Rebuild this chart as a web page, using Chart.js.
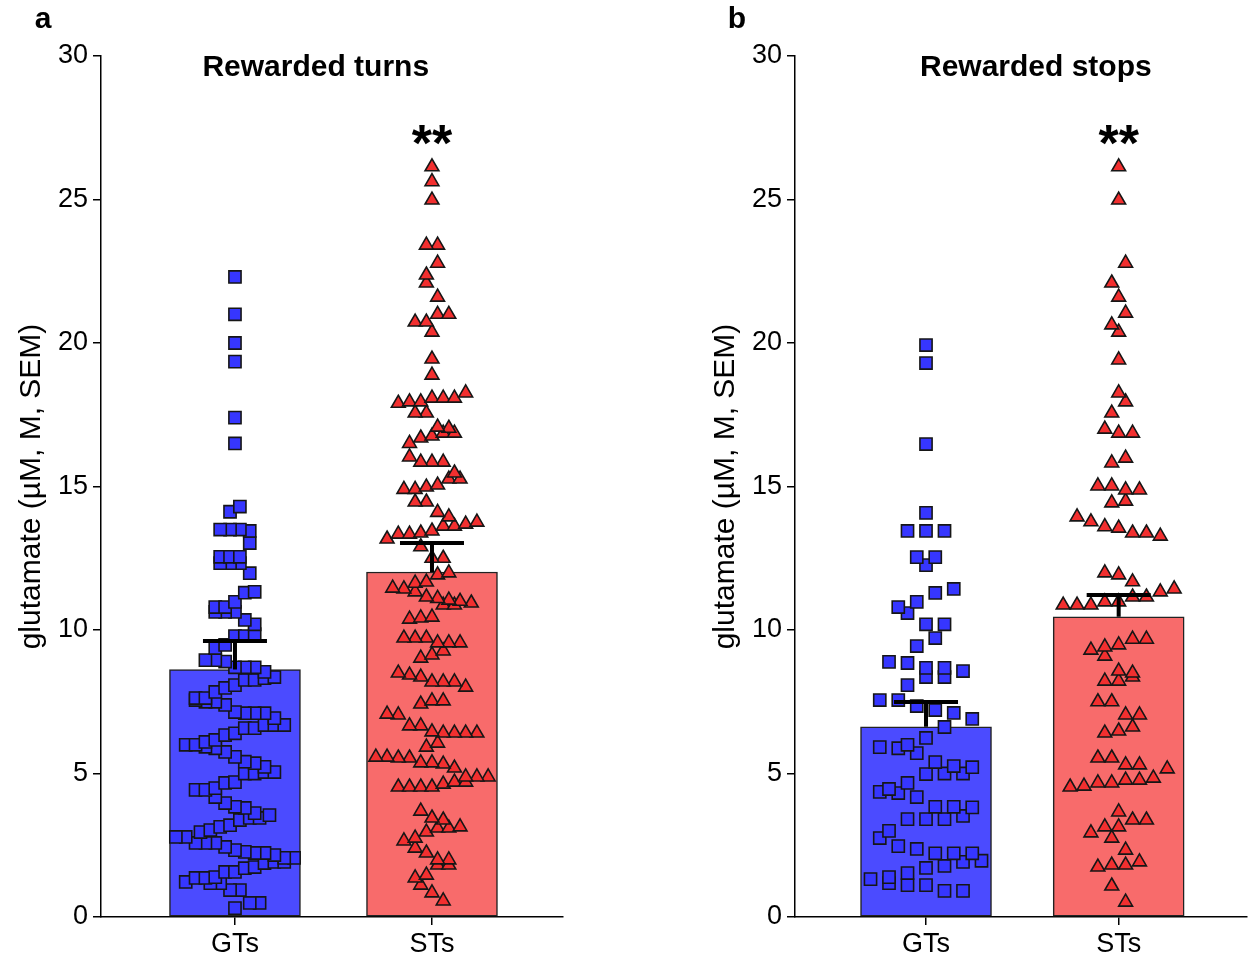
<!DOCTYPE html>
<html>
<head>
<meta charset="utf-8">
<script src="https://cdn.jsdelivr.net/npm/chart.js@4.4.1/dist/chart.umd.min.js"></script>
<style>
body { margin: 0; background: #fff; width: 1257px; height: 963px; overflow: hidden; position: relative; }
canvas { position: absolute; top: 0; }
#panelA { left: 0; }
#panelB { left: 694px; }
</style>
</head>
<body>
<canvas id="panelA" width="694" height="963"></canvas>
<canvas id="panelB" width="563" height="963"></canvas>
<script>
const groups = ["GTs", "STs"];
const yTicks = [0, 5, 10, 15, 20, 25, 30];

// Rewarded turns
const turnsMean = [8.62, 12.02];
const turnsSem = [1.0, 1.01];
const turnsGT = [22.3, 21.0, 20.0, 19.35, 17.4, 16.5,
    14.3, 14.12, 13.5, 13.5, 13.5, 13.45, 13.03,
    12.55, 12.55, 12.55, 12.33, 12.33, 12.33, 11.98, 11.33, 11.3,
    10.98, 10.8, 10.8, 10.63, 10.63, 10.63, 10.35, 10.2,
    9.86, 9.79, 9.79, 9.48, 9.37, 8.95, 8.95, 8.9, 8.7, 8.7, 8.7,
    8.54, 8.36, 8.32, 8.26, 8.26, 8.08, 7.98, 7.84,
    7.63, 7.63, 7.56, 7.5, 7.5, 7.39, 7.14, 7.1, 7.1, 7.1, 6.93,
    6.69, 6.69, 6.69, 6.58, 6.58, 6.4, 6.34, 6.17, 6.1,
    6.0, 6.0, 5.93, 5.88, 5.75, 5.58, 5.41, 5.36, 5.23,
    5.05, 5.05, 5.0, 5.0, 4.7, 4.67, 4.49, 4.43, 4.43, 4.18,
    3.97, 3.84, 3.8, 3.62, 3.55, 3.45, 3.45, 3.38, 3.2, 3.14, 3.03,
    2.96, 2.79, 2.79, 2.58, 2.58, 2.58, 2.44, 2.33, 2.27, 2.23, 2.23, 2.16,
    2.06, 2.06, 1.92, 1.92, 1.88, 1.74, 1.7, 1.57, 1.57,
    1.39, 1.36, 1.36, 1.22, 1.18, 1.18, 0.94, 0.94, 0.49, 0.49, 0.31];
const turnsST = [26.14, 25.62, 24.98, 23.41, 23.41, 22.78, 22.37, 22.09, 21.6, 21.0, 21.0,
    20.73, 20.73, 20.38, 19.44, 18.88, 18.26, 18.08, 18.08, 18.08,
    17.95, 17.95, 17.9, 17.56, 17.56, 17.07, 17.03, 16.86, 16.86, 16.76, 16.69, 16.5,
    16.03, 15.85, 15.85, 15.85, 15.47, 15.26, 15.26, 15.05, 14.98, 14.9, 14.9,
    14.46, 14.46, 14.1, 13.94, 13.76, 13.69, 13.62, 13.62, 13.45, 13.38, 13.34, 13.34,
    13.17, 12.9, 12.5, 12.5,
    11.99, 11.92, 11.67, 11.63, 11.46, 11.43, 11.33, 11.15, 11.1, 11.04, 11.0, 10.94,
    10.87, 10.87, 10.45, 10.42, 10.38,
    9.72, 9.72, 9.72, 9.55, 9.55, 9.55, 9.27, 9.13, 9.02,
    8.5, 8.43, 8.36, 8.19, 8.19, 8.19, 8.01, 7.53, 7.53, 7.42, 7.07, 7.04,
    6.66, 6.66, 6.45, 6.41, 6.41, 6.41, 6.41, 6.06, 5.92, 5.57, 5.57, 5.54, 5.54,
    5.37, 5.37, 5.33, 5.19, 4.88, 4.88, 4.88, 4.7, 4.7, 4.63, 4.53, 4.53, 4.53, 4.53,
    3.69, 3.45, 3.38, 3.14, 3.1, 3.1, 2.96, 2.75, 2.65, 2.4, 2.23,
    1.99, 1.99, 1.81, 1.81, 1.46, 1.36, 1.11, 0.84, 0.56];

// Rewarded stops
const stopsMean = [6.63, 10.46];
const stopsSem = [0.86, 0.76];
const stopsGT = [19.93, 19.3, 16.48, 14.08, 13.45, 13.45, 13.45, 12.54, 12.54, 12.26,
    11.43, 11.29, 10.98, 10.8, 10.59, 10.2, 10.2, 9.72, 9.44,
    8.89, 8.85, 8.68, 8.68, 8.57, 8.36, 8.36, 8.08, 7.56, 7.56, 7.35, 7.21, 7.11,
    6.9, 6.62, 6.24, 6.0, 5.92, 5.88, 5.71, 5.4, 5.26, 5.22, 5.0, 5.0, 4.98,
    4.67, 4.46, 4.36, 4.32, 4.18, 3.84, 3.84, 3.82, 3.52, 3.41, 3.41, 3.41,
    3.0, 2.75, 2.47, 2.37, 2.22, 2.22, 2.22, 1.96, 1.92, 1.78, 1.71, 1.53,
    1.39, 1.32, 1.18, 1.11, 1.11, 0.91, 0.91];
const stopsST = [26.14, 24.98, 22.78, 22.09, 21.6, 21.04, 20.63, 20.38, 19.41, 18.26,
    17.95, 17.56, 17.0, 16.86, 16.86, 15.99, 15.82,
    15.02, 15.02, 14.88, 14.88, 14.49, 14.43, 13.94, 13.77, 13.6, 13.55, 13.38, 13.38, 13.27,
    11.99, 11.92, 11.68, 11.43, 11.33, 11.15, 11.15, 10.98, 10.98, 10.87, 10.87, 10.87,
    9.68, 9.68, 9.48, 9.41, 9.3, 9.09, 8.57, 8.5, 8.36, 8.22, 8.22,
    7.5, 7.5, 7.04, 7.04, 6.62, 6.48, 6.41, 5.54, 5.54, 5.3, 5.3, 5.16,
    4.84, 4.77, 4.77, 4.67, 4.67, 4.56, 4.53,
    3.66, 3.38, 3.38, 3.14, 3.14, 2.93, 2.75, 2.33, 1.92, 1.81, 1.81, 1.74, 1.08, 0.52];

const FONT = "'Liberation Sans', Arial, sans-serif";

// spread points of similar value side by side, like a column scatter;
// rows run alternately left-to-right and right-to-left and never get wider than the bar
function swarm(values, center, spacing, binH) {
    const rows = {};
    values.forEach(v => {
        const k = Math.round(v / binH);
        (rows[k] = rows[k] || []).push(v);
    });
    const pts = [];
    for (const k in rows) {
        const row = rows[k].slice().sort((p, q) => p - q);
        const n = row.length;
        const step = n > 1 ? Math.min(spacing, 0.6 / (n - 1)) : 0;
        const dir = (k % 2 === 0) ? 1 : -1;
        row.forEach((v, i) => pts.push({ x: center + dir * (i - (n - 1) / 2) * step, y: v }));
    }
    return pts;
}

const extrasPlugin = {
    id: 'extras',
    afterDatasetsDraw(chart, args, o) {
        const ctx = chart.ctx;
        const xs = chart.scales.x, ys = chart.scales.y;
        ctx.save();
        ctx.strokeStyle = '#000';
        ctx.lineWidth = 4;
        o.mean.forEach((m, i) => {
            const px = xs.getPixelForValue(i);
            const y0 = ys.getPixelForValue(m);
            const y1 = ys.getPixelForValue(m + o.sem[i]);
            ctx.beginPath();
            ctx.moveTo(px, y0);
            ctx.lineTo(px, y1);
            ctx.moveTo(px - 32, y1);
            ctx.lineTo(px + 32, y1);
            ctx.stroke();
        });
        ctx.restore();
    },
    afterDraw(chart, args, o) {
        const ctx = chart.ctx;
        const xs = chart.scales.x, ys = chart.scales.y;
        ctx.save();
        ctx.fillStyle = '#000';
        ctx.textAlign = 'center';
        ctx.textBaseline = 'middle';
        ctx.font = 'bold 30px ' + FONT;
        ctx.fillText(o.letter, o.letterX, 20);
        ctx.fillText(o.title, xs.getPixelForValue(o.titleX), 68);
        ctx.font = 'bold 52px ' + FONT;
        ctx.fillText('**', xs.getPixelForValue(1), ys.getPixelForValue(o.starsY) + 10);
        ctx.restore();
    }
};

function makePanel(id, mean, sem, gt, st, o) {
    new Chart(document.getElementById(id), {
        data: {
            datasets: [{
                type: 'scatter',
                data: swarm(gt, 0, o.gtSpacing, o.gtBin),
                pointStyle: 'rect',
                pointRadius: 8.6,
                backgroundColor: '#3636ff',
                borderColor: '#161616',
                borderWidth: 1.6,
                order: 1
            }, {
                type: 'scatter',
                data: swarm(st, 1, o.stSpacing, o.stBin),
                pointStyle: 'triangle',
                pointRadius: 8,
                backgroundColor: '#f22f2f',
                borderColor: '#161616',
                borderWidth: 1.6,
                order: 1
            }, {
                type: 'bar',
                data: mean.map((m, i) => ({ x: i, y: m })),
                backgroundColor: ['#4b4bff', '#f86b6b'],
                borderColor: '#222',
                borderWidth: 1.5,
                borderSkipped: false,
                barThickness: 131,
                order: 3
            }]
        },
        options: {
            responsive: false,
            animation: false,
            layout: { padding: { top: 56, right: o.padRight, bottom: 0, left: 0 } },
            plugins: {
                legend: { display: false },
                tooltip: { enabled: false },
                extras: { mean: mean, sem: sem, letter: o.letter, letterX: o.letterX, title: o.title, titleX: o.titleX, starsY: 27.2 }
            },
            scales: {
                x: {
                    type: 'linear',
                    min: -0.68,
                    max: 1.665,
                    offset: false,
                    afterFit: s => { s.height = 46; },
                    afterBuildTicks: s => { s.ticks = groups.map((g, i) => ({ value: i })); },
                    ticks: {
                        callback: (v, i) => groups[i],
                        font: { family: FONT, size: 27 },
                        color: '#000',
                        padding: 3,
                        maxRotation: 0
                    },
                    grid: { offset: false, drawOnChartArea: false, drawTicks: true, tickLength: 8, color: '#000', lineWidth: 1.5 },
                    border: { color: '#000', width: 1.5 }
                },
                y: {
                    min: 0,
                    max: 30,
                    afterFit: s => { s.width = 101; },
                    afterBuildTicks: s => { s.ticks = yTicks.map(v => ({ value: v })); },
                    ticks: { font: { family: FONT, size: 27 }, color: '#000', padding: 5 },
                    grid: { drawOnChartArea: false, drawTicks: true, tickLength: 8, color: '#000', lineWidth: 1.5 },
                    border: { color: '#000', width: 1.5 },
                    title: {
                        display: true,
                        text: 'glutamate (µM, M, SEM)',
                        font: { family: FONT, size: 30 },
                        color: '#000',
                        padding: { top: 14, bottom: 0 }
                    }
                }
            }
        },
        plugins: [extrasPlugin]
    });
}

makePanel('panelA', turnsMean, turnsSem, turnsGT, turnsST,
    { letter: 'a', letterX: 43, title: 'Rewarded turns', titleX: 0.41, padRight: 131,
      gtSpacing: 0.05, gtBin: 0.8, stSpacing: 0.057, stBin: 0.75 });
makePanel('panelB', stopsMean, stopsSem, stopsGT, stopsST,
    { letter: 'b', letterX: 43, title: 'Rewarded stops', titleX: 0.57, padRight: 0,
      gtSpacing: 0.096, gtBin: 0.8, stSpacing: 0.072, stBin: 0.8 });
</script>
</body>
</html>
